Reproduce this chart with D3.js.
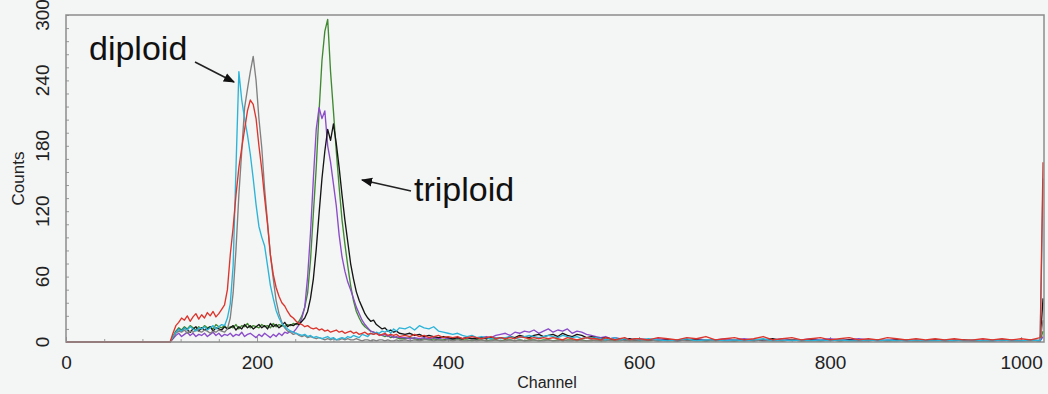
<!DOCTYPE html>
<html lang="en">
<meta charset="utf-8">
<style>
  body { margin: 0; background: #f4f5f5; }
  svg { display: block; font-family: "Liberation Sans", Arial, sans-serif; }
  .trace { fill: none; stroke-width: 1.35px; stroke-linejoin: round; }
  .tick line { stroke: #9a9a9a; }
  .domain { display: none; }
</style>
<script src="https://d3js.org/d3.v7.min.js"></script>
<body>
<div id="chart"></div>
<script>
// channel grid the counts were read at (fine near the peaks, coarser in the tail)
const channels = [0, 109].concat(
  d3.range(112, 352, 3), d3.range(355, 600, 5), d3.range(600, 1021, 10), [1023])

const xTicks = [0, 200, 400, 600, 800, 1000]
const yTicks = [0, 60, 120, 180, 240, 300]

// diploid samples
const cyan = [0, 0,
  5, 9, 12, 10, 13, 11, 14, 12, 10, 13,
  12, 14, 11, 13, 15, 12, 14, 16, 15, 22,
  35, 70, 160, 248, 222, 205, 190, 172, 150, 126,
  106, 96, 88, 70, 52, 40, 29, 22, 17, 14,
  12, 10, 9, 8, 7, 6, 7, 5, 6, 4,
  5, 4, 3, 4, 5, 3, 4, 2, 3, 4,
  3, 5, 4, 6, 5, 4, 7, 6, 5, 8,
  7, 9, 8, 10, 9, 11, 8, 12, 10, 13,
  12, 14, 11, 15, 13, 12, 14, 10, 9, 8,
  7, 8, 6, 5, 6, 4, 5, 4, 3, 4,
  3, 4, 5, 3, 4, 5, 6, 5, 4, 5,
  6, 5, 4, 6, 5, 4, 5, 3, 4, 3,
  4, 3, 2, 3, 4, 2, 3, 2, 3,
  2, 3, 2, 1, 2, 3, 1, 2, 2, 1,
  2, 1, 2, 3, 1, 2, 1, 2, 1, 2,
  1, 2, 1, 1, 2, 1, 2, 1, 1, 2,
  1, 1, 2, 1, 1, 2, 1, 1, 2, 1,
  1, 2, 1,
  150]

const gray = [0, 0,
  4, 8, 10, 9, 11, 8, 10, 9, 11, 10,
  9, 11, 10, 8, 10, 9, 11, 10, 9, 12,
  22, 45, 85, 135, 175, 215, 232, 248, 262, 240,
  205, 178, 140, 110, 80, 58, 38, 26, 18, 13,
  10, 9, 7, 8, 6, 5, 6, 4, 5, 4,
  3, 4, 3, 2, 3, 2, 3, 2, 2, 3,
  2, 3, 2, 2, 3, 2, 1, 2, 2, 1,
  2, 1, 2, 2, 1, 2, 1, 1, 2, 1,
  2, 1, 2, 1, 2, 2, 1, 2, 1, 2,
  1, 2, 1, 1, 2, 1, 2, 1, 1, 2,
  1, 1, 2, 1, 2, 1, 1, 2, 1, 1,
  2, 1, 1, 2, 1, 1, 2, 1, 1, 2,
  1, 1, 2, 1, 1, 2, 1, 1, 1,
  1, 2, 1, 1, 2, 1, 1, 2, 1, 1,
  2, 1, 1, 2, 1, 1, 2, 1, 1, 1,
  1, 2, 1, 1, 1, 2, 1, 1, 2, 1,
  1, 1, 1, 2, 1, 1, 1, 2, 1, 1,
  1, 1, 2,
  20]

const red = [0, 0,
  8, 15, 18, 22, 20, 24, 19, 23, 26, 21,
  25, 22, 27, 24, 28, 23, 26, 30, 34, 48,
  80, 105, 135, 160, 178, 195, 212, 222, 218, 205,
  180, 158, 132, 108, 80, 62, 50, 42, 36, 33,
  28, 24, 22, 19, 17, 16, 14, 15, 13, 12,
  13, 11, 12, 10, 11, 9, 10, 11, 9, 10,
  8, 9, 10, 8, 9, 7, 8, 9, 7, 8,
  7, 8, 6, 7, 8, 6, 7, 6, 7, 5,
  6, 5, 7, 5, 6, 4, 5, 6, 4, 5,
  4, 5, 3, 4, 5, 4, 3, 4, 5, 3,
  4, 3, 4, 3, 5, 4, 3, 4, 3, 4,
  3, 4, 3, 2, 4, 3, 2, 3, 4, 3,
  3, 2, 4, 3, 2, 3, 4, 2, 3,
  3, 2, 4, 3, 2, 4, 3, 5, 2, 3,
  4, 2, 3, 5, 2, 3, 4, 2, 3, 4,
  2, 3, 4, 2, 3, 2, 4, 3, 2, 3,
  2, 3, 2, 3, 2, 2, 3, 2, 3, 2,
  3, 2, 4,
  165]

// triploid samples
const green = [0, 0,
  5, 10, 13, 11, 14, 12, 15, 13, 11, 14,
  12, 15, 13, 14, 12, 16, 14, 13, 15, 12,
  14, 13, 16, 12, 15, 14, 17, 13, 15, 14,
  13, 16, 14, 15, 13, 17, 14, 16, 15, 14,
  16, 15, 17, 16, 19, 24, 32, 45, 75, 118,
  160, 212, 258, 285, 296, 248, 212, 175, 142, 112,
  90, 70, 52, 38, 28, 22, 17, 14, 12, 10,
  9, 8, 7, 6, 5, 6, 4, 5, 4, 3,
  3, 4, 3, 2, 3, 2, 3, 2, 2, 3,
  2, 3, 2, 2, 1, 2, 2, 1, 2, 2,
  1, 2, 2, 1, 2, 1, 2, 2, 1, 2,
  2, 1, 2, 1, 2, 2, 1, 2, 1, 1,
  2, 1, 1, 2, 1, 1, 2, 1, 1,
  1, 1, 2, 1, 1, 2, 1, 1, 1, 2,
  1, 1, 2, 1, 1, 1, 2, 1, 1, 1,
  2, 1, 1, 1, 2, 1, 1, 1, 2, 1,
  1, 1, 1, 2, 1, 1, 1, 1, 2, 1,
  1, 1, 1,
  10]

const purple = [0, 0,
  3, 6, 8, 5, 7, 9, 6, 8, 5, 7,
  6, 8, 5, 7, 9, 6, 8, 5, 7, 6,
  8, 5, 7, 6, 9, 5, 7, 8, 6, 4,
  7, 5, 8, 6, 4, 7, 5, 8, 6, 9,
  8, 10, 9, 12, 16, 22, 32, 60, 100, 150,
  195, 215, 205, 212, 180, 165, 145, 125, 98, 78,
  65, 55, 48, 40, 32, 26, 20, 16, 13, 10,
  9, 8, 7, 6, 7, 5, 6, 4, 5, 4,
  4, 3, 4, 3, 4, 3, 4, 3, 4, 3,
  3, 4, 3, 4, 3, 4, 4, 5, 4, 6,
  7, 8, 6, 9, 8, 10, 9, 11, 8, 10,
  12, 9, 11, 10, 12, 8, 10, 9, 7, 6,
  5, 4, 5, 3, 4, 3, 2, 3, 2,
  3, 2, 3, 2, 1, 2, 3, 2, 2, 3,
  2, 3, 2, 1, 2, 3, 2, 2, 3, 2,
  3, 2, 2, 3, 2, 1, 2, 2, 1, 2,
  1, 2, 1, 2, 1, 1, 2, 1, 1, 2,
  1, 2, 1,
  5]

const black = [0, 0,
  4, 9, 12, 10, 13, 11, 9, 12, 14, 10,
  13, 11, 12, 14, 10, 13, 12, 11, 14, 12,
  13, 15, 11, 14, 12, 16, 13, 15, 12, 14,
  16, 13, 15, 12, 17, 14, 16, 13, 15, 18,
  14, 16, 15, 17, 16, 19, 22, 28, 40, 58,
  85, 118, 150, 175, 195, 185, 200, 182, 160, 135,
  112, 92, 72, 58, 46, 38, 32, 26, 22, 19,
  20, 16, 14, 12, 13, 10, 11, 9, 10, 8,
  7, 8, 6, 7, 5, 6, 5, 4, 5, 4,
  3, 4, 3, 4, 3, 3, 4, 3, 4, 3,
  4, 3, 5, 4, 6, 5, 4, 6, 7, 5,
  6, 7, 5, 8, 6, 5, 7, 6, 4, 5,
  4, 3, 4, 3, 2, 3, 2, 3, 2,
  2, 2, 1, 2, 1, 2, 2, 1, 2, 1,
  1, 2, 1, 2, 3, 1, 2, 1, 2, 1,
  2, 1, 2, 1, 1, 2, 1, 2, 1, 1,
  1, 2, 1, 1, 2, 1, 1, 1, 2, 1,
  1, 2, 1,
  40]

const seriesNames = ["green", "purple", "black", "gray", "cyan", "red"]
const seriesValues = [green, purple, black, gray, cyan, red]
const seriesColors = ["#3f8a30", "#8a4cc8", "#151515", "#808080", "#2cb4d8", "#dc352c"]

const W = 1048, H = 394
const M = { left: 66, right: 4, top: 15, bottom: 52 }

const svg = d3.select("#chart").append("svg")
  .attr("width", W)
  .attr("height", H)

svg.append("rect")
  .attr("width", W).attr("height", H)
  .attr("fill", "#f4f5f5")

const x = d3.scaleLinear().domain([0, 1024]).range([M.left, W - M.right])
const y = d3.scaleLinear().domain([0, 300]).range([H - M.bottom, M.top])

// minor ticks pointing in
svg.append("g")
  .attr("transform", `translate(0, ${y(0)})`)
  .call(d3.axisBottom(x).tickValues(d3.range(0, 1025, 40)).tickSize(-3).tickFormat(""))
svg.append("g")
  .attr("transform", `translate(${x(0)}, 0)`)
  .call(d3.axisLeft(y).tickValues(d3.range(0, 301, 12)).tickSize(-3).tickFormat(""))

// x tick labels
svg.append("g")
  .attr("transform", `translate(0, ${y(0)})`)
  .call(d3.axisBottom(x).tickValues(xTicks).tickSize(-5).tickPadding(14).tickFormat(d3.format("d")))
  .call(g => g.selectAll("text")
    .attr("fill", "#222").attr("font-size", 19)
    .attr("font-family", "'Liberation Sans', Arial, sans-serif"))

// y tick labels, rotated
svg.append("g").selectAll("text")
  .data(yTicks)
  .join("text")
  .attr("transform", d => `translate(49, ${y(d)}) rotate(-90)`)
  .attr("text-anchor", "middle")
  .attr("font-size", 19)
  .attr("fill", "#222")
  .text(d => d)

svg.append("text")
  .attr("transform", `translate(24, ${(y(0) + y(300)) / 2}) rotate(-90)`)
  .attr("text-anchor", "middle")
  .attr("font-size", 17)
  .attr("fill", "#222")
  .text("Counts")

svg.append("text")
  .attr("x", 547).attr("y", 388)
  .attr("text-anchor", "middle")
  .attr("font-size", 16)
  .attr("fill", "#222")
  .text("Channel")

// traces
const line = d3.line()
  .x(d => x(d[0]))
  .y(d => y(d[1]))

seriesValues.forEach((vals, i) => {
  const pts = vals.map((v, j) => [channels[j], v]).filter(p => p[0] !== undefined)
  svg.append("path")
    .attr("class", "trace " + seriesNames[i])
    .attr("stroke", seriesColors[i])
    .attr("d", line(pts))
})

// frame
svg.append("rect")
  .attr("x", x(0)).attr("y", y(300))
  .attr("width", x(1024) - x(0)).attr("height", y(0) - y(300))
  .attr("fill", "none")
  .attr("stroke", "#8c8c8c")
  .attr("stroke-width", 1.5)

// annotations
const defs = svg.append("defs")
defs.append("marker")
  .attr("id", "head")
  .attr("viewBox", "0 0 10 10")
  .attr("refX", 9).attr("refY", 5)
  .attr("markerWidth", 7).attr("markerHeight", 7)
  .attr("orient", "auto")
  .append("path")
  .attr("d", "M0,1 L10,5 L0,9 Z")
  .attr("fill", "#111")

svg.append("text")
  .attr("x", 89).attr("y", 60)
  .attr("font-size", 34)
  .attr("fill", "#111")
  .text("diploid")
svg.append("line")
  .attr("x1", 195).attr("y1", 62).attr("x2", 234).attr("y2", 82)
  .attr("stroke", "#222").attr("stroke-width", 1.6)
  .attr("marker-end", "url(#head)")

svg.append("text")
  .attr("x", 414).attr("y", 201)
  .attr("font-size", 34)
  .attr("fill", "#111")
  .text("triploid")
svg.append("line")
  .attr("x1", 411).attr("y1", 191).attr("x2", 362).attr("y2", 180)
  .attr("stroke", "#222").attr("stroke-width", 1.6)
  .attr("marker-end", "url(#head)")
</script>
</body>
</html>
